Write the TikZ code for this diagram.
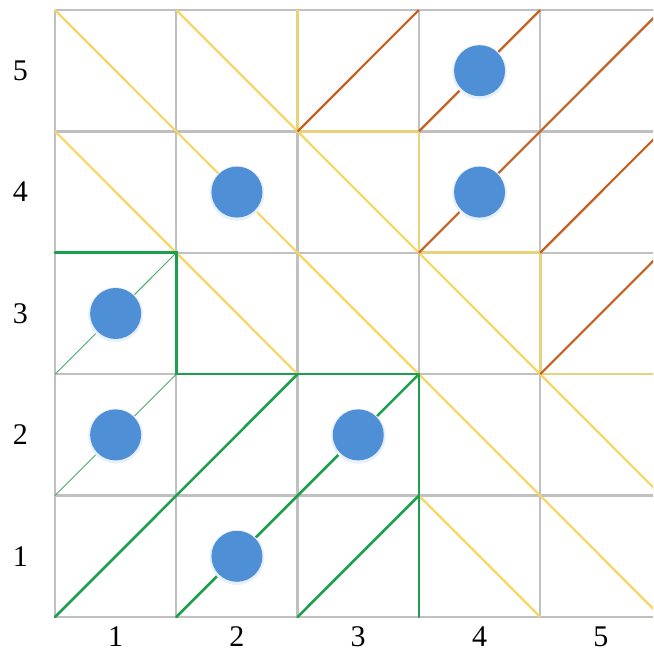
\documentclass[tikz,border=0pt]{standalone}
\usepackage{fontspec}
\setmainfont{Liberation Serif}
\definecolor{gridgray}{RGB}{192,192,192}
\definecolor{ylw}{RGB}{246,214,102}
\definecolor{stair}{RGB}{232,210,125}
\definecolor{brn}{RGB}{196,98,36}
\definecolor{grn}{RGB}{28,160,78}
\definecolor{thingrn}{RGB}{70,170,110}
\definecolor{dotblue}{RGB}{79,143,214}
\definecolor{halo}{RGB}{232,240,250}
\tikzset{
  gridline/.style={draw=gridgray, line width=2.4pt},
  ydiag/.style={draw=ylw, line width=2.2pt},
  ystair/.style={draw=stair, line width=2.6pt, line cap=round},
  bdiag/.style={draw=brn, line width=2.2pt},
  gthick/.style={draw=grn, line width=2.6pt, line cap=round},
  gthin/.style={draw=thingrn, line width=0.9pt},
  dot/.style={circle, fill=dotblue, minimum size=51pt, inner sep=0pt},
  dothalo/.style={circle, fill=halo, minimum size=55pt, inner sep=0pt},
  lbl/.style={font=\fontsize{30}{36}\selectfont, inner sep=0pt}
}
\begin{document}
\begin{tikzpicture}[x=121.3pt, y=121.4pt]
\useasboundingbox (-0.4534,-0.3048) rectangle (4.930,5.0824);
\begin{scope}
\clip (-0.4534,-0.3048) rectangle (4.930,5.0824);
\foreach \i in {0,...,6} {\foreach \j in {0,...,5} {\coordinate (p\i\j) at (\i,\j);}}
% grid
\foreach \i in {0,...,4} {\draw[gridline] (p\i0) -- (p\i5);}
\foreach \j in {0,...,5} {\draw[gridline] (p0\j) -- (p6\j);}
% yellow down-right diagonals
\draw[ydiag] (p05) -- (p50);
\draw[ydiag] (p15) -- (p51);
\draw[ydiag] (p04) -- (p22);
\draw[ydiag] (p31) -- (p40);
% yellow staircase
\draw[ystair] (p25) -- (p24) -- (p34) -- (p33) -- (p43) -- (p42) -- (p62);
% brown up-right diagonals
\draw[bdiag] (p24) -- (p35);
\draw[bdiag] (p34) -- (p45);
\draw[bdiag] (p33) -- (p55);
\draw[bdiag] (p43) -- (p54);
\draw[bdiag] (p42) -- (p64);
% green
\draw[gthin] (p02) -- (p13);
\draw[gthin] (p01) -- (p12);
\draw[gthick] (p03) -- (p13) -- (p12) -- (p32) -- (p30);
\draw[gthick] (p00) -- (p22);
\draw[gthick] (p10) -- (p32);
\draw[gthick] (p20) -- (p31);
\end{scope}
% dots
\foreach \n/\x/\y in {a/3.5/4.5, b/1.5/3.5, c/3.5/3.5, d/0.5/2.5, e/0.5/1.5, f/2.5/1.5, g/1.5/0.5} {
  \node[dothalo] (h\n) at (\x,\y-0.01) {};
  \node[dot] (d\n) at (\x,\y) {};
}
% labels
\foreach \k in {1,...,5} {
  \node[lbl] (ly\k) at (-0.285,\k-0.5) {\k};
  \node[lbl] (lx\k) at (\k-0.5,-0.165) {\k};
}
\end{tikzpicture}
\end{document}
